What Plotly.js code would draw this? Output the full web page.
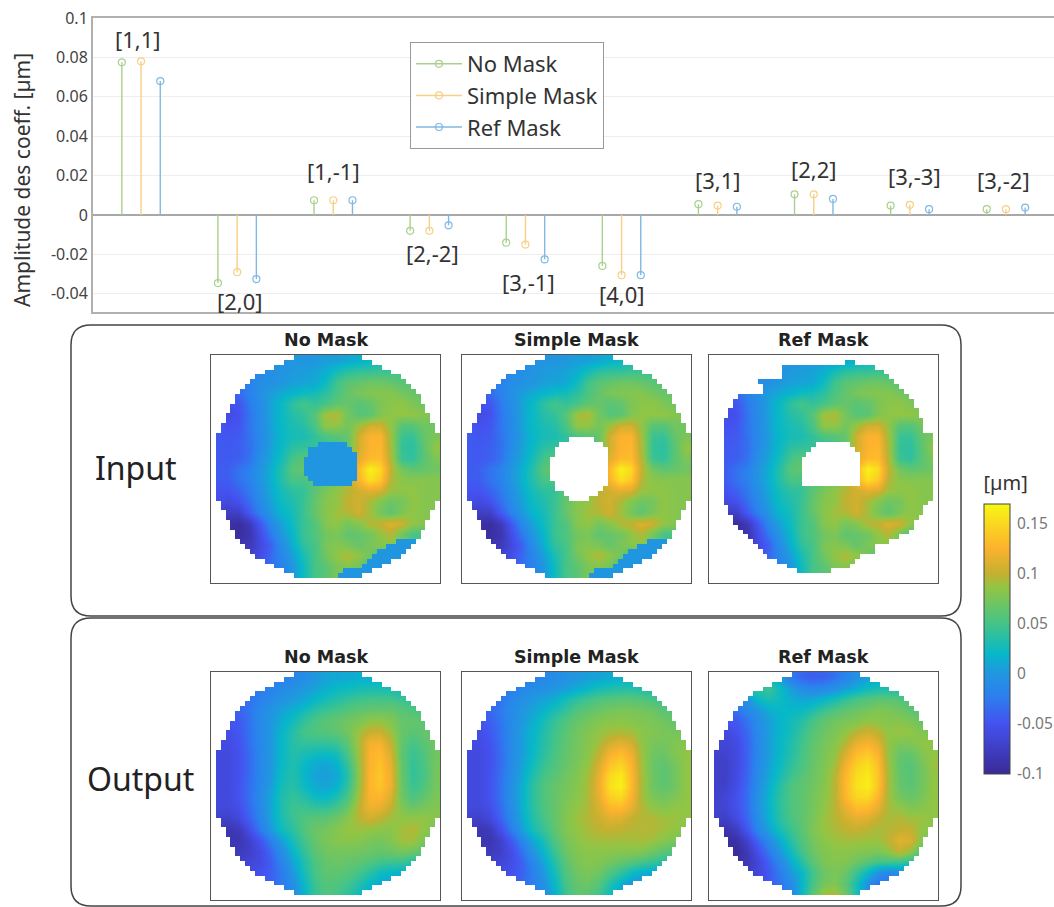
<!DOCTYPE html>
<html><head><meta charset="utf-8">
<script src="https://cdn.plot.ly/plotly-3.0.1.min.js"></script>
<style>html,body{margin:0;padding:0;background:#fff}</style></head>
<body><div id="chart" style="width:1054px;height:907px"></div>
<script>
// ---------- stem chart data ----------
const termLabels = ["[1,1]","[2,0]","[1,-1]","[2,-2]","[3,-1]","[4,0]","[3,1]","[2,2]","[3,-3]","[3,-2]"];
const noMaskCoef = [0.0775,-0.0345,0.0075,-0.008,-0.014,-0.0258,0.0055,0.0105,0.0048,0.003];
const simpleMaskCoef = [0.078,-0.029,0.0075,-0.008,-0.015,-0.0305,0.0048,0.0105,0.0052,0.003];
const refMaskCoef = [0.068,-0.0325,0.0075,-0.0052,-0.0225,-0.0305,0.0042,0.0082,0.003,0.0038];
const labelGroupX = [-0.03,1.03,2,3.03,4.03,5,6,7,8.05,8.97];
const labelValueY = [0.0895,-0.0435,0.0222,-0.0195,-0.034,-0.040,0.0178,0.0235,0.020,0.0178];
const seriesNames = ["No Mask","Simple Mask","Ref Mask"];
const seriesColors = ["#a9d08e","#f8cf84","#7fb9e3"];
const seriesOffsets = [-0.2,0,0.2];

// ---------- surface data, 0.001 µm, rows top to bottom ----------
const inputSurface = [
[-20,-20,-20,-20,-20,-10,-5,0,0,0,5,5,10,15,20,25,30,30,30,30,30],
[-25,-25,-25,-22,-12,-6,-2,2,4,8,14,28,38,42,42,46,46,46,46,46,46],
[-30,-30,-28,-20,-8,-4,0,6,8,10,24,48,60,65,70,70,66,60,60,60,60],
[-40,-40,-35,-20,-5,5,12,18,25,28,38,52,65,75,78,80,80,72,66,65,65],
[-50,-52,-48,-25,-8,8,22,40,50,42,50,62,66,58,64,76,82,85,76,70,70],
[-50,-58,-52,-28,-10,8,22,35,42,58,90,95,72,58,60,78,85,85,85,80,75],
[-45,-52,-48,-28,-10,8,22,30,35,52,85,85,72,88,105,105,85,58,58,70,70],
[-45,-48,-45,-30,-12,5,20,28,30,40,52,58,65,105,125,125,90,45,42,65,75],
[-45,-46,-43,-32,-10,8,22,38,42,42,42,44,65,105,125,128,92,42,38,60,85],
[-45,-46,-42,-30,-5,10,28,50,60,60,60,62,78,112,130,132,95,45,40,60,75],
[-45,-42,-30,-20,0,15,35,60,65,60,60,62,88,130,165,150,100,72,62,65,70],
[-45,-44,-30,-20,0,15,35,52,52,60,62,72,92,125,155,140,95,82,80,80,80],
[-50,-50,-40,-25,-5,12,28,38,42,60,75,85,95,105,112,108,88,85,85,80,80],
[-55,-60,-52,-32,-10,8,24,32,45,65,80,85,100,105,92,78,68,72,85,80,80],
[-70,-75,-72,-45,-18,2,18,28,45,65,80,90,95,105,90,72,62,76,85,80,80],
[-85,-90,-95,-80,-45,-12,8,25,45,55,80,85,72,80,95,100,110,105,85,80,80],
[-85,-90,-95,-85,-55,-25,0,20,45,55,70,75,62,65,70,85,95,70,50,50,50],
[-70,-80,-85,-80,-60,-40,-10,15,40,50,75,80,75,65,75,80,80,80,50,50,50],
[-60,-65,-75,-70,-55,-35,-15,5,30,50,70,85,95,85,70,50,50,50,50,50,50],
[-50,-55,-60,-60,-45,-30,-20,0,25,50,60,75,80,70,50,50,50,50,50,50,50],
[-50,-55,-60,-60,-45,-30,-20,0,25,50,60,75,80,70,50,50,50,50,50,50,50]];
const outputNoMask = [
[-30,-30,-30,-30,-30,-25,-20,-15,-10,0,8,10,12,15,15,15,15,15,15,15,15],
[-35,-35,-35,-30,-25,-18,-12,-5,2,8,15,22,25,28,30,30,28,25,25,25,25],
[-40,-40,-35,-30,-20,-10,-2,4,10,20,28,35,42,48,50,50,50,45,40,40,40],
[-45,-45,-40,-28,-12,-2,8,15,25,38,45,50,58,62,65,66,66,60,55,50,50],
[-50,-50,-45,-30,-12,0,13,26,40,52,60,65,70,76,84,85,78,66,65,60,60],
[-55,-55,-48,-30,-12,2,18,34,50,55,58,62,72,88,102,102,88,66,60,65,65],
[-58,-58,-50,-32,-12,2,20,36,42,42,42,46,62,92,120,122,100,64,50,60,70],
[-60,-60,-52,-34,-14,2,20,34,30,25,22,28,52,88,125,130,108,62,44,55,70],
[-60,-60,-52,-34,-14,2,22,32,22,12,8,16,42,85,125,135,115,64,42,52,72],
[-60,-60,-52,-34,-14,2,25,34,20,8,5,10,36,82,128,138,118,66,42,50,72],
[-60,-60,-50,-32,-12,5,28,36,24,12,8,16,40,85,128,136,118,68,44,55,72],
[-60,-60,-50,-32,-10,10,32,42,34,22,20,30,52,90,125,128,110,70,52,62,75],
[-62,-62,-55,-34,-12,10,32,46,46,42,42,50,68,98,118,115,100,78,68,75,78],
[-70,-72,-62,-40,-15,10,30,44,55,60,62,70,82,96,104,98,88,85,85,85,80],
[-78,-85,-80,-55,-25,2,25,38,55,68,72,80,86,88,86,82,82,90,95,85,75],
[-78,-85,-85,-70,-48,-20,5,28,48,65,75,80,82,80,75,72,78,90,90,75,70],
[-70,-78,-80,-72,-58,-35,-8,18,40,60,70,72,72,70,68,65,68,72,68,60,50],
[-60,-65,-70,-65,-58,-42,-18,8,32,52,65,68,65,62,55,48,45,45,35,30,30],
[-50,-55,-60,-58,-52,-42,-25,0,28,50,62,62,58,50,38,25,20,15,15,15,15],
[-45,-50,-50,-50,-45,-38,-25,-8,20,45,58,55,48,35,20,10,5,5,5,5,5],
[-40,-45,-45,-45,-40,-35,-25,-10,15,42,55,50,40,25,10,5,5,5,5,5,5]];
const outputSimpleMask = [
[-30,-30,-30,-30,-30,-25,-20,-15,-10,-5,0,5,8,12,15,15,15,15,15,15,15],
[-35,-35,-32,-28,-22,-15,-8,-5,0,5,12,20,28,32,35,35,32,30,30,30,30],
[-40,-38,-35,-28,-15,-6,2,8,15,28,40,48,55,58,60,60,58,52,45,45,45],
[-45,-45,-38,-25,-10,0,8,18,30,42,55,62,68,72,75,75,72,68,60,55,55],
[-50,-50,-42,-28,-10,2,13,28,42,55,65,72,78,82,82,80,78,75,70,65,65],
[-55,-55,-46,-30,-10,5,18,33,48,60,70,78,85,90,92,90,82,78,75,72,72],
[-58,-58,-50,-32,-10,5,20,35,50,62,72,80,90,105,112,105,85,74,72,78,78],
[-60,-60,-52,-34,-10,5,22,38,52,64,72,82,98,122,132,118,88,70,68,78,85],
[-60,-60,-52,-34,-10,8,26,43,55,66,75,86,106,136,146,126,90,68,62,72,85],
[-60,-60,-50,-32,-8,10,33,50,60,70,78,90,114,150,160,130,92,68,60,70,85],
[-60,-60,-50,-31,-5,15,38,56,65,72,80,92,116,154,165,130,92,70,62,70,85],
[-60,-60,-50,-31,-5,15,38,56,65,75,82,92,114,144,150,125,92,75,70,76,85],
[-62,-62,-55,-34,-8,15,38,54,65,78,85,94,108,128,130,114,95,85,80,85,85],
[-70,-72,-62,-40,-12,12,33,50,65,78,88,95,102,112,110,100,95,95,90,88,85],
[-78,-85,-80,-54,-22,5,28,44,62,78,85,92,98,100,98,95,95,95,90,85,80],
[-78,-85,-85,-70,-45,-15,10,30,55,72,82,88,90,90,90,90,92,88,80,75,70],
[-70,-78,-80,-72,-55,-30,-2,20,45,68,78,82,82,82,80,80,78,70,60,55,50],
[-60,-65,-70,-65,-55,-40,-15,10,35,60,75,80,78,72,65,58,50,42,35,30,30],
[-50,-55,-60,-58,-52,-40,-22,2,28,55,70,75,70,55,40,25,15,10,10,10,10],
[-45,-50,-50,-50,-45,-35,-22,-5,20,50,65,68,58,35,15,0,-5,-5,-5,-5,-5],
[-40,-45,-45,-45,-40,-35,-25,-8,15,45,62,62,48,25,5,-5,-10,-10,-10,-10,-10]];
const outputRefMask = [
[40,40,40,40,40,30,5,-25,-38,-42,-40,-30,-18,-5,5,10,10,10,10,10,10],
[50,50,40,40,40,45,25,5,-10,-15,-12,-5,5,15,25,30,30,30,30,30,30],
[-15,-15,-15,-2,22,30,24,15,10,12,20,30,42,52,58,62,62,58,50,50,50],
[-35,-35,-30,-15,0,14,20,20,22,32,45,55,62,68,72,78,75,70,62,58,58],
[-50,-50,-45,-28,-8,6,18,26,35,50,62,70,75,78,85,82,80,80,75,65,65],
[-60,-60,-52,-34,-10,5,18,28,42,58,68,75,85,96,104,96,85,88,85,78,75],
[-65,-65,-58,-38,-12,5,20,32,48,62,72,80,95,115,122,112,85,76,78,85,85],
[-70,-68,-60,-38,-12,5,20,34,50,64,74,85,108,132,140,124,85,66,64,78,85],
[-72,-72,-60,-38,-10,8,23,39,52,66,76,90,120,144,154,132,88,62,58,72,88],
[-72,-72,-58,-36,-8,10,28,46,58,68,78,95,128,152,160,136,90,64,58,70,85],
[-72,-70,-55,-34,-5,15,35,54,62,70,80,96,130,155,164,136,90,66,60,70,85],
[-70,-65,-52,-32,-2,18,38,54,62,72,82,96,128,148,150,126,90,72,66,74,85],
[-68,-65,-52,-32,-2,18,38,54,62,72,84,96,116,132,130,114,92,85,78,80,85],
[-72,-72,-58,-36,-6,16,36,52,62,74,88,95,106,114,110,100,92,95,90,88,85],
[-85,-88,-75,-46,-12,8,28,45,60,76,86,92,98,100,96,92,95,100,100,85,80],
[-95,-95,-92,-68,-35,-10,12,35,55,72,82,88,90,90,88,88,98,112,108,80,70],
[-90,-95,-98,-80,-52,-25,0,25,48,68,78,82,82,80,78,75,85,100,85,55,50],
[-80,-85,-90,-82,-62,-40,-15,12,35,60,75,80,78,68,58,48,48,45,35,20,20],
[-70,-75,-80,-75,-62,-45,-25,0,20,48,68,75,68,45,20,-5,-15,-10,-5,-5,-5],
[-60,-65,-70,-68,-58,-45,-30,-12,18,50,72,78,60,28,-5,-30,-30,-25,-20,-20,-20],
[-50,-55,-60,-60,-55,-45,-32,-15,20,60,90,95,70,30,-10,-30,-30,-30,-30,-30,-30]];

// ---------- pupil masks (47 x 47 cell grid): half widths and [first,last] columns per row ----------
const discHalfWidths = [7,9,11,13,15,16,17,18,19,19,20,20,21,21,22,22,23,23,23,23,23,23,23,23,23,23,23,23,23,23,22,22,21,21,20,20,19,19,18,17,16,15,13,11,9,7];
const refOutline = [null,[28,29],[15,33],[15,35],[15,36],[10,37],[11,38],[11,39],[6,40],[5,41],[5,41],[4,42],[4,42],[3,43],[3,43],[3,43],[3,45],[3,45],[3,45],[3,45],[3,45],[3,45],[3,45],[3,45],[3,45],[3,45],[3,45],[3,45],[3,45],[3,45],[3,44],[4,43],[4,43],[5,42],[5,41],[6,41],[7,40],[8,38],[9,36],[10,33],[11,33],[12,30],[14,29],[16,28],[18,24]];
const simpleHoleStart = 17;
const simpleHole = [[22,26],[20,28],[19,29],[19,29],[18,29],[18,29],[18,29],[18,29],[18,29],[19,29],[19,28],[21,27],[22,25]];
const refHoleStart = 18;
const refHole = [[22,28],[21,29],[20,30],[19,30],[19,30],[19,30],[19,30],[19,30],[19,30]];
const blueSpotStart = 18;
const blueSpot = [[22,27],[20,28],[20,29],[19,29],[19,29],[19,29],[19,29],[20,29],[21,28]];
const wedgeStart = 38;
const wedgeFirstCol = [38,36,34,33,32,31,27,26];

const colorStops = [[0,"#3a2a96"],[0.186,"#4452f0"],[0.29,"#2b80ee"],[0.372,"#2196e0"],[0.446,"#06b8c8"],[0.558,"#45c487"],[0.688,"#90c545"],[0.743,"#c5b030"],[0.836,"#fdb22e"],[1,"#f7f714"]];
const panelHeaders = ["No Mask","Simple Mask","Ref Mask"];
const colorbarTicks = [-0.1,-0.05,0,0.05,0.1,0.15];

// ---------- helpers ----------
const W = 1054, H = 907, N = 47;
const px = x => x / W, py = y => 1 - y / H;
const toUm = g => g.map(r => r.map(v => v / 1000));
const discSpans = discHalfWidths.map(w => [24 - w, 24 + w - 1]);
function overlay(spans, holes, holeStart, fills, fillStart, wedge) {
  const z = [];
  for (let r = 0; r < N; r++) {
    const row = new Array(N).fill(0), s = spans[r];
    if (s) for (let c = s[0]; c <= s[1]; c++) row[c] = null;
    const h = holes && holes[r - holeStart];
    if (h) for (let c = h[0]; c <= h[1]; c++) row[c] = 0;
    const f = fills && fills[r - fillStart];
    if (f) for (let c = f[0]; c <= f[1]; c++) row[c] = 1;
    if (wedge && r >= wedgeStart && wedgeFirstCol[r - wedgeStart] !== undefined && s)
      for (let c = wedgeFirstCol[r - wedgeStart]; c <= s[1]; c++) row[c] = 1;
    z.push(row);
  }
  return z;
}
const boxes = [
  {x0:211,x1:440,y0:355,y1:583},{x0:462,x1:691,y0:355,y1:583},{x0:709,x1:938,y0:355,y1:583},
  {x0:211,x1:440,y0:672,y1:900},{x0:462,x1:691,y0:672,y1:900},{x0:709,x1:938,y0:672,y1:900}];
const surfaces = [inputSurface,inputSurface,inputSurface,outputNoMask,outputSimpleMask,outputRefMask];
const overlays = [
  overlay(discSpans,null,0,blueSpot,blueSpotStart,true),
  overlay(discSpans,simpleHole,simpleHoleStart,null,0,true),
  overlay(refOutline,refHole,refHoleStart,null,0,false),
  overlay(discSpans),overlay(discSpans),overlay(discSpans)];

const data = [], annotations = [];
const layout = {
  width:W, height:H, margin:{l:0,r:0,t:0,b:0}, paper_bgcolor:"#fff", plot_bgcolor:"#fff",
  font:{family:"Noto Sans, sans-serif",color:"#333"},
  xaxis:{domain:[px(93),1],range:[-0.5,9.5],showgrid:false,zeroline:false,showticklabels:false,ticks:"",
    showline:true,linecolor:"#b0b0b0",linewidth:2,mirror:true},
  yaxis:{domain:[py(312),py(18)],range:[-0.0492,0.1],tickvals:[-0.04,-0.02,0,0.02,0.04,0.06,0.08,0.1],
    ticktext:["-0.04","-0.02","0","0.02","0.04","0.06","0.08","0.1"],
    tickfont:{size:16,color:"#444"},gridcolor:"#eeeeee",gridwidth:1,zeroline:true,zerolinecolor:"#a8a8a8",zerolinewidth:2,
    showline:true,linecolor:"#b0b0b0",linewidth:2,mirror:true,ticks:""},
  legend:{x:px(410),y:py(42),xanchor:"left",yanchor:"top",bgcolor:"#fff",bordercolor:"#999",borderwidth:1,
    font:{size:22,color:"#333"},itemwidth:46,entrywidth:179,entrywidthmode:"pixels"},
  coloraxis:{cmin:-0.1,cmax:0.169,colorscale:colorStops,
    colorbar:{x:px(984),xanchor:"left",xpad:0,y:py(472),yanchor:"top",ypad:0,len:302,lenmode:"pixels",thickness:26,
      tickvals:colorbarTicks,ticktext:colorbarTicks.map(String),ticks:"outside",ticklen:4,tickcolor:"rgba(0,0,0,0)",
      tickfont:{size:15.5,color:"#777"},outlinecolor:"#444",outlinewidth:1,
      title:{text:"[µm]",side:"top",font:{size:20,color:"#333"}}}},
  shapes:[
    {type:"path",xref:"paper",yref:"paper",layer:"below",line:{color:"#444",width:1.5},
     path:`M ${px(91)} ${py(325)} L ${px(941)} ${py(325)} Q ${px(961)} ${py(325)} ${px(961)} ${py(345)} L ${px(961)} ${py(596)} Q ${px(961)} ${py(616)} ${px(941)} ${py(616)} L ${px(91)} ${py(616)} Q ${px(71)} ${py(616)} ${px(71)} ${py(596)} L ${px(71)} ${py(345)} Q ${px(71)} ${py(325)} ${px(91)} ${py(325)} Z`},
    {type:"path",xref:"paper",yref:"paper",layer:"below",line:{color:"#444",width:1.5},
     path:`M ${px(91)} ${py(618)} L ${px(941)} ${py(618)} Q ${px(961)} ${py(618)} ${px(961)} ${py(638)} L ${px(961)} ${py(886)} Q ${px(961)} ${py(906)} ${px(941)} ${py(906)} L ${px(91)} ${py(906)} Q ${px(71)} ${py(906)} ${px(71)} ${py(886)} L ${px(71)} ${py(638)} Q ${px(71)} ${py(618)} ${px(91)} ${py(618)} Z`}],
  annotations
};

// stems
[noMaskCoef,simpleMaskCoef,refMaskCoef].forEach((vals,k)=>{
  const xs=[],ys=[],up=[],down=[];
  vals.forEach((v,i)=>{
    xs.push(i+seriesOffsets[k],null); ys.push(v,null);
    up.push(v<0?-v:0,0); down.push(v>0?v:0,0);
  });
  data.push({type:"scatter",mode:"lines+markers",name:seriesNames[k],x:xs,y:ys,
    line:{color:seriesColors[k],width:1.5},
    marker:{symbol:"circle-open",size:7,color:seriesColors[k],line:{width:1.2,color:seriesColors[k]}},
    error_y:{type:"data",symmetric:false,array:up,arrayminus:down,width:0,thickness:1.4,color:seriesColors[k]},
    hoverinfo:"skip",cliponaxis:false});
});
termLabels.forEach((t,i)=>annotations.push({x:labelGroupX[i],y:labelValueY[i],xref:"x",yref:"y",text:t,showarrow:false,
  font:{size:22,color:"#333"},xanchor:"center",yanchor:"middle"}));
annotations.push({xref:"paper",yref:"paper",x:px(22),y:py(180),text:"Amplitude des coeff. [µm]",textangle:-90,showarrow:false,
  font:{size:21,color:"#333"},xanchor:"center",yanchor:"middle"});

// maps
boxes.forEach((b,i)=>{
  const n=i+2, xa="x"+n, ya="y"+n;
  layout["xaxis"+n]={domain:[px(b.x0),px(b.x1)],range:[0,N],anchor:ya,showgrid:false,zeroline:false,
    showticklabels:false,ticks:"",showline:true,mirror:true,linecolor:"#555",linewidth:1.2};
  layout["yaxis"+n]={domain:[py(b.y1),py(b.y0)],range:[N,0],anchor:xa,showgrid:false,zeroline:false,
    showticklabels:false,ticks:"",showline:true,mirror:true,linecolor:"#555",linewidth:1.2};
  const dx=N/21;
  data.push({type:"heatmap",z:toUm(surfaces[i]),x0:dx/2,dx:dx,y0:dx/2,dy:dx,xaxis:xa,yaxis:ya,coloraxis:"coloraxis",
    zsmooth:"best",hoverinfo:"skip",showlegend:false});
  data.push({type:"heatmap",z:overlays[i],x0:0.5,dx:1,y0:0.5,dy:1,xaxis:xa,yaxis:ya,zmin:0,zmax:1,zsmooth:false,
    colorscale:[[0,"#ffffff"],[0.5,"#ffffff"],[0.5,"#2196e0"],[1,"#2196e0"]],showscale:false,hoverinfo:"skip",showlegend:false});
  annotations.push({xref:"paper",yref:"paper",x:px((b.x0+b.x1)/2),y:py(b.y0-15),text:"<b>"+panelHeaders[i%3]+"</b>",showarrow:false,
    font:{family:"DejaVu Sans",size:17.5,color:"#222"},xanchor:"center",yanchor:"middle"});
});
annotations.push({xref:"paper",yref:"paper",x:px(136),y:py(467),text:"Input",showarrow:false,font:{size:32,color:"#222"},xanchor:"center",yanchor:"middle"});
annotations.push({xref:"paper",yref:"paper",x:px(140),y:py(778),text:"Output",showarrow:false,font:{size:32,color:"#222"},xanchor:"center",yanchor:"middle"});

Plotly.newPlot("chart",data,layout,{displayModeBar:false,responsive:false});
</script></body></html>
